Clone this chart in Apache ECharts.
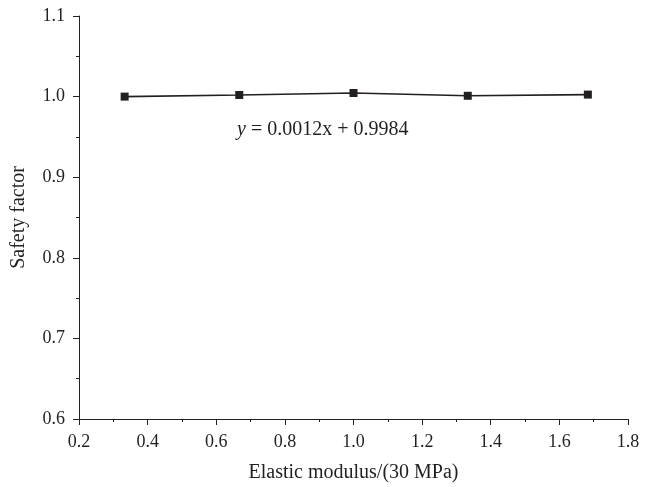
<!DOCTYPE html>
<html lang="en">
<head>
    <meta charset="UTF-8">
    <title>Safety factor</title>
    <style>
        html, body { margin: 0; padding: 0; background: #fff; }
        #main { width: 655px; height: 487px; }
    </style>
    <script src="https://cdn.jsdelivr.net/npm/echarts@6/dist/echarts.min.js"></script>
</head>
<body>
    <div id="main"></div>
    <script>
        // values
        var modulus = [0.333, 0.667, 1.0, 1.333, 1.683];
        var safety = [1.000, 1.002, 1.0045, 1.001, 1.0025];
        var fitText = '{i|y} = 0.0012x + 0.9984';

        var ink = '#231f20';
        var font = 'Liberation Serif';

        var pts = [];
        for (var i = 0; i < modulus.length; i++) {
            pts.push([modulus[i], safety[i]]);
        }

        var myChart = echarts.init(document.getElementById('main'));

        var axisCommon = {
            axisLine: { show: true, lineStyle: { color: ink, width: 1 } },
            axisTick: { show: true, inside: false, length: 6, lineStyle: { color: ink } },
            minorTick: { show: true, splitNumber: 2, length: 3, lineStyle: { color: ink } },
            splitLine: { show: false },
            axisLabel: { color: ink, fontFamily: font, fontSize: 18, margin: 14,
                formatter: function (v) { return v.toFixed(1); } },
            nameTextStyle: { color: ink, fontFamily: font, fontSize: 20 }
        };

        var option = {
            animation: false,
            grid: { left: 79, right: 27, top: 16, bottom: 68, outerBoundsMode: 'none' },
            xAxis: Object.assign({}, axisCommon, {
                type: 'value',
                min: 0.2,
                max: 1.8,
                interval: 0.2,
                name: 'Elastic modulus/(30 MPa)',
                nameLocation: 'middle',
                nameGap: 44
            }),
            yAxis: Object.assign({}, axisCommon, {
                type: 'value',
                min: 0.6,
                max: 1.1,
                interval: 0.1,
                name: 'Safety factor',
                nameLocation: 'middle',
                nameGap: 50
            }),
            series: [{
                type: 'line',
                data: pts,
                symbol: 'rect',
                symbolSize: 8,
                itemStyle: { color: ink },
                lineStyle: { color: ink, width: 1.6 }
            }],
            graphic: [{
                type: 'text',
                left: 237,
                top: 120,
                style: {
                    text: fitText,
                    fill: ink,
                    font: '20px "Liberation Serif"',
                    rich: {
                        i: { fontStyle: 'italic', fontFamily: font, fontSize: 20, fill: ink }
                    }
                }
            }]
        };

        myChart.setOption(option);
    </script>
</body>
</html>
